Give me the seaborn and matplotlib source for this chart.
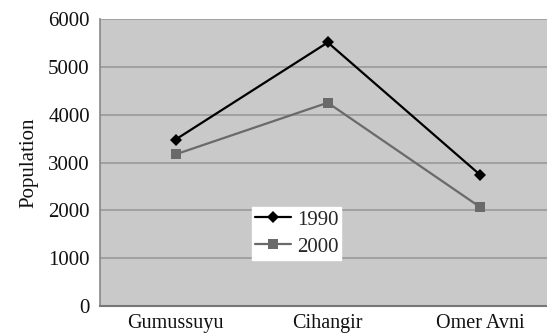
import matplotlib
matplotlib.use("Agg")
import matplotlib.pyplot as plt
import seaborn as sns
import pandas as pd
from matplotlib.ticker import FixedLocator

categories = ["Gumussuyu", "Cihangir", "Omer Avni"]
years = ["1990", "2000"]
pop_1990 = [3480, 5510, 2745]
pop_2000 = [3170, 4250, 2070]
y_ticks = [0, 1000, 2000, 3000, 4000, 5000, 6000]

rows = []
for yr, vals in zip(years, [pop_1990, pop_2000]):
    for i, (c, v) in enumerate(zip(categories, vals)):
        rows.append({"pos": i, "district": c, "year": yr, "pop": v})
df = pd.DataFrame(rows)

sns.set_style("white")
plt.rcParams["font.family"] = ["Liberation Serif", "DejaVu Serif"]

fig = plt.figure(figsize=(5.47, 3.34), dpi=100)
W, H = 547, 334
left, top, bottom = 99.5, 19, 306
ax = fig.add_axes([left / W, (H - bottom) / H, 1 - left / W, (bottom - top) / H])
ax.set_facecolor("#c9c9c9")

palette = {"1990": "#000000", "2000": "#6a6a6a"}
markers = {"1990": "D", "2000": "s"}
sns.lineplot(data=df, x="pos", y="pop", hue="year", style="year",
             palette=palette, markers=markers, dashes=False,
             linewidth=1.6, markersize=7, markeredgewidth=0, ax=ax)
for line in ax.get_lines():
    if line.get_marker() == "D":
        line.set_markersize(6.5)

ax.set_xlim(-0.5, 2 + (W - 480) / 152)
ax.set_ylim(0, 6000)
ax.set_yticks(y_ticks)
ax.set_yticklabels([str(t) for t in y_ticks])
ax.set_xticks(range(len(categories)))
ax.set_xticklabels(categories)
ax.xaxis.set_minor_locator(FixedLocator([0.5, 1.5]))
ax.tick_params(axis="x", which="major", length=0, labelsize=14.5, pad=6, colors="#111111")
ax.tick_params(axis="x", which="minor", length=5, width=1, color="#999999", direction="out")
ax.tick_params(axis="y", which="major", length=4, width=1, color="#888888", labelsize=15,
               pad=3, labelcolor="#111111")
ax.yaxis.grid(True, color="#9a9a9a", linewidth=1.2)
ax.set_axisbelow(True)
ax.set_xlabel("")
ax.set_ylabel("Population", fontsize=15, labelpad=7, color="#111111")

for s in ["top", "right"]:
    ax.spines[s].set_visible(False)
ax.spines["left"].set_color("#888888")
ax.spines["left"].set_linewidth(1.2)
ax.spines["bottom"].set_color("#777777")
ax.spines["bottom"].set_linewidth(1.5)

handles, labels = ax.get_legend_handles_labels()
leg = ax.legend(handles, labels, loc="upper left",
                bbox_to_anchor=((252 - left) / (W - left), (bottom - 207) / (bottom - top)),
                borderaxespad=0, frameon=True, fancybox=False, fontsize=15,
                handlelength=1.7, handletextpad=0.3, labelspacing=0.35,
                borderpad=0.15, framealpha=1)
leg.get_frame().set_facecolor("white")
leg.get_frame().set_edgecolor("white")

fig.savefig("out.png", dpi=100)
